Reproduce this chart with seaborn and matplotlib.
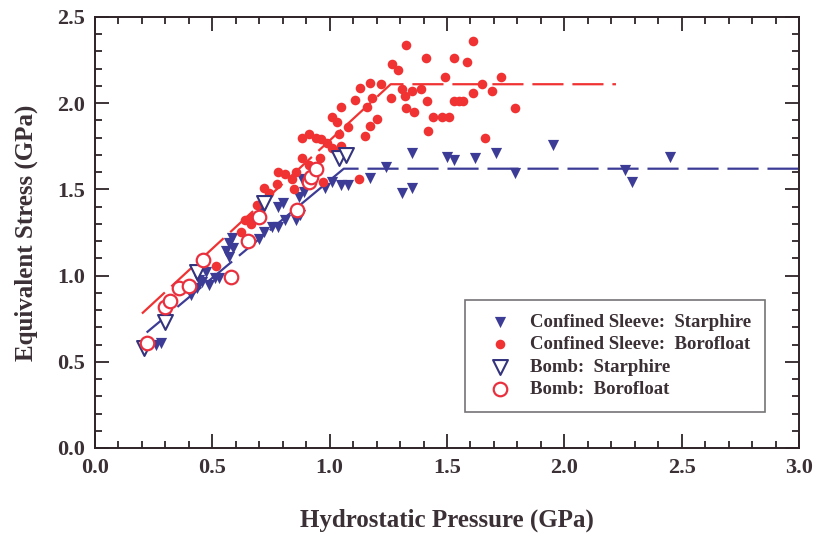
import numpy as np
import pandas as pd
import matplotlib
matplotlib.use("Agg")
import matplotlib.pyplot as plt
import seaborn as sns
from matplotlib.ticker import MultipleLocator, FormatStrFormatter

# ==========================================
# DATA
# ==========================================

# Confined sleeve, Starphire (filled down-triangles)
sleeve_star_p = [0.26, 0.28, 0.41, 0.435, 0.445, 0.455, 0.475, 0.485, 0.51, 0.53,
                 0.56, 0.57, 0.57, 0.59, 0.585, 0.70, 0.72, 0.71, 0.755, 0.78,
                 0.81, 0.855, 0.875, 0.78, 0.80, 0.87, 0.89, 0.88, 0.98, 1.01,
                 1.05, 1.08, 1.17, 1.24, 1.31, 1.35, 1.35, 1.50, 1.53, 1.62,
                 1.71, 1.79, 1.95, 2.26, 2.29, 2.45]
sleeve_star_s = [0.60, 0.61, 0.89, 0.93, 0.975, 0.96, 1.02, 0.945, 0.985, 0.985,
                 1.14, 1.11, 1.19, 1.16, 1.22, 1.21, 1.25, 1.38, 1.28, 1.28,
                 1.32, 1.32, 1.35, 1.40, 1.42, 1.455, 1.485, 1.56, 1.51, 1.54,
                 1.525, 1.525, 1.565, 1.63, 1.48, 1.51, 1.71, 1.69, 1.67, 1.68,
                 1.71, 1.595, 1.76, 1.61, 1.54, 1.69]

# Confined sleeve, Borofloat (filled circles)
sleeve_boro_p = [0.515, 0.62, 0.64, 0.665, 0.67, 0.69, 0.72, 0.74, 0.775, 0.85,
                 0.78, 0.81, 0.855, 0.84, 0.97, 0.88, 0.96, 0.91, 0.88, 0.91,
                 0.94, 0.965, 0.99, 1.01, 1.03, 1.05,
                 1.325, 1.61, 1.41, 1.53, 1.585, 1.265, 1.29, 1.17, 1.22, 1.13,
                 1.49, 1.73, 1.65, 1.69, 1.61, 1.31, 1.35, 1.39, 1.32, 1.18,
                 1.26, 1.11, 1.415, 1.53, 1.55, 1.57, 1.79, 1.05, 1.16, 1.325,
                 1.36, 1.01, 1.03, 1.20, 1.17, 1.44, 1.48, 1.51, 1.08, 1.04,
                 1.42, 1.15, 1.66, 1.125]
sleeve_boro_s = [1.055, 1.25, 1.32, 1.30, 1.34, 1.41, 1.51, 1.48, 1.53, 1.50,
                 1.60, 1.59, 1.60, 1.56, 1.54, 1.68, 1.68, 1.64, 1.80, 1.82,
                 1.80, 1.79, 1.77, 1.74, 1.72, 1.75,
                 2.34, 2.36, 2.26, 2.26, 2.24, 2.23, 2.19, 2.12, 2.11, 2.09,
                 2.15, 2.15, 2.11, 2.07, 2.06, 2.08, 2.07, 2.08, 2.04, 2.03,
                 2.03, 2.02, 2.01, 2.01, 2.01, 2.01, 1.97, 1.98, 1.98, 1.97,
                 1.95, 1.92, 1.89, 1.91, 1.87, 1.92, 1.92, 1.92, 1.86, 1.82,
                 1.84, 1.81, 1.80, 1.56]

# Bomb, Starphire (open down-triangles)
bomb_star_p = [0.21, 0.30, 0.435, 0.72, 1.04, 1.07]
bomb_star_s = [0.58, 0.73, 1.02, 1.42, 1.68, 1.70]

# Bomb, Borofloat (open circles)
bomb_boro_p = [0.22, 0.30, 0.32, 0.36, 0.40, 0.46, 0.58, 0.65, 0.70, 0.86, 0.91, 0.92, 0.94]
bomb_boro_s = [0.61, 0.82, 0.85, 0.93, 0.94, 1.09, 0.99, 1.20, 1.34, 1.38, 1.54, 1.57, 1.62]

# Bilinear fits (knee + plateau)
fit_boro_p = [0.20, 1.26, 2.22]
fit_boro_s = [0.78, 2.11, 2.11]
fit_star_p = [0.22, 1.06, 3.00]
fit_star_s = [0.67, 1.62, 1.62]

blue = "#3c3c96"
red = "#f03232"
ink = "#3a3035"

sns.set_theme(style="ticks")
plt.rcParams["font.family"] = ["Liberation Serif", "DejaVu Serif"]
plt.rcParams["font.weight"] = "bold"
plt.rcParams["text.color"] = ink
plt.rcParams["axes.labelcolor"] = ink
plt.rcParams["xtick.color"] = ink
plt.rcParams["ytick.color"] = ink

fig = plt.figure(figsize=(8.22, 5.36), dpi=100)
ax = fig.add_axes([0.1156, 0.1642, 0.8564, 0.8041])

dash = (0, (14, 4))
sns.lineplot(x=fit_star_p, y=fit_star_s, ax=ax, color=blue, lw=1.6,
             linestyle=dash, zorder=1, legend=False)
sns.lineplot(x=fit_boro_p, y=fit_boro_s, ax=ax, color=red, lw=1.6,
             linestyle=dash, zorder=1, legend=False)

sns.scatterplot(x=sleeve_star_p, y=sleeve_star_s, ax=ax, marker="v", s=65,
                color=blue, edgecolor=blue, linewidth=0, zorder=3,
                label="Confined Sleeve:  Starphire")
sns.scatterplot(x=sleeve_boro_p, y=sleeve_boro_s, ax=ax, marker="o", s=48,
                color=red, edgecolor=red, linewidth=0, zorder=3,
                label="Confined Sleeve:  Borofloat")
sns.scatterplot(x=bomb_star_p, y=bomb_star_s, ax=ax, marker="v", s=115,
                facecolor="white", edgecolor="#34347e", linewidth=1.5, zorder=4,
                label="Bomb:  Starphire")
sns.scatterplot(x=bomb_boro_p, y=bomb_boro_s, ax=ax, marker="o", s=95,
                facecolor="white", edgecolor="#e8303e", linewidth=1.6, zorder=4,
                label="Bomb:  Borofloat")

ax.set_xlim(0, 3.0)
ax.set_ylim(0, 2.5)
ax.xaxis.set_major_locator(MultipleLocator(0.5))
ax.xaxis.set_minor_locator(MultipleLocator(0.1))
ax.yaxis.set_major_locator(MultipleLocator(0.5))
ax.yaxis.set_minor_locator(MultipleLocator(0.1))
ax.xaxis.set_major_formatter(FormatStrFormatter("%.1f"))
ax.yaxis.set_major_formatter(FormatStrFormatter("%.1f"))
ax.tick_params(which="both", direction="in", top=True, right=True,
               labelsize=16, width=1.3, color="#2e2428")
ax.tick_params(which="major", length=10, pad=7)
ax.tick_params(which="minor", length=5)
for sp in ax.spines.values():
    sp.set_color("#2e2428")
    sp.set_linewidth(1.4)

ax.set_xlabel("Hydrostatic Pressure (GPa)", fontsize=18, fontweight="bold", labelpad=22)
ax.set_ylabel("Equivalent Stress (GPa)", fontsize=18, fontweight="bold", labelpad=14)

leg = ax.legend(loc="lower right", bbox_to_anchor=(0.952, 0.083), borderaxespad=0,
                fancybox=False, frameon=True, edgecolor="#555055", fontsize=13.5,
                handletextpad=0.5, borderpad=0.75, labelspacing=0.28, handlelength=2.2)
leg.get_frame().set_linewidth(1.2)
for t in leg.get_texts():
    t.set_fontweight("bold")

fig.savefig("out.png", dpi=100)
